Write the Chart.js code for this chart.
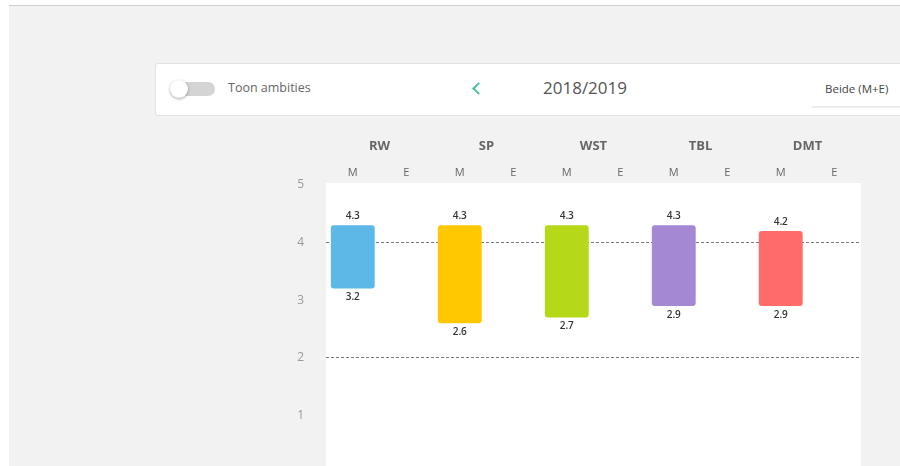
<!DOCTYPE html>
<html>
<head>
<meta charset="utf-8">
<script src="https://cdn.jsdelivr.net/npm/chart.js@4/dist/chart.umd.min.js"></script>
<style>
  html, body { margin: 0; padding: 0; width: 900px; height: 466px; overflow: hidden; background: #fff; font-family: "Open Sans", sans-serif; }
  .page { position: absolute; left: 9px; top: 5px; right: 0; height: 600px; background: #f2f2f2; border-top: 1px solid #cfcfcf; }
  .bar-top { position: absolute; left: 155px; top: 63px; width: 780px; height: 51px; background: #fff; border: 1px solid #e2e2e2; border-radius: 3px; }
  .track { position: absolute; left: 172px; top: 82px; width: 43px; height: 14px; border-radius: 7px; background: #d4d4d4; }
  .knob { position: absolute; left: 170px; top: 80px; width: 18px; height: 18px; border-radius: 50%; background: #fff; box-shadow: 0 1px 3px rgba(0,0,0,0.35); }
  .lbl { position: absolute; left: 228px; top: 80px; font-size: 12.5px; color: #666; line-height: 16px; }
  .chev { position: absolute; left: 474px; top: 84px; width: 7px; height: 7px; border-left: 2px solid #4dbfa6; border-bottom: 2px solid #4dbfa6; transform: rotate(45deg); }
  .year { position: absolute; left: 543px; top: 77px; font-size: 17px; color: #555; line-height: 22px; }
  .sel { position: absolute; left: 812px; top: 74px; width: 100px; height: 32px; border-bottom: 2px solid #ececec; }
  .sel span { position: absolute; left: 13px; top: 7px; font-size: 11.5px; color: #444; line-height: 16px; }
  #chart { position: absolute; left: 270px; top: 125px; }
</style>
</head>
<body>
<div class="page"></div>
<div class="bar-top"></div>
<div class="track"></div>
<div class="knob"></div>
<div class="lbl">Toon ambities</div>
<div class="chev"></div>
<div class="year">2018/2019</div>
<div class="sel"><span>Beide (M+E)</span></div>
<canvas id="chart" width="620" height="377"></canvas>
<script>
const groups = ["RW", "SP", "WST", "TBL", "DMT"];
const subLabels = ["M", "E"];
const lowValues = [3.2, 2.6, 2.7, 2.9, 2.9];
const highValues = [4.3, 4.3, 4.3, 4.3, 4.2];
const barColors = ["#5cb8e6", "#ffc800", "#b5d818", "#a488d4", "#ff6b6b"];
const yTicks = [1, 2, 3, 4, 5];
const dashedAt = [2, 4];

// one M and one E column per group, only M has a bar
const labels = [];
const data = [];
const colors = [];
groups.forEach((g, i) => {
  subLabels.forEach(s => {
    labels.push(s);
    data.push(s === "M" ? [lowValues[i], highValues[i]] : null);
    colors.push(barColors[i]);
  });
});

const plotBackground = {
  id: "plotBackground",
  beforeDraw(chart) {
    const { ctx, chartArea: a } = chart;
    ctx.save();
    ctx.fillStyle = "#fff";
    ctx.fillRect(a.left, a.top - 2, a.right - a.left, a.bottom - a.top + 2);
    ctx.restore();
  },
};

const valueLabels = {
  id: "valueLabels",
  afterDatasetsDraw(chart) {
    const { ctx } = chart;
    const meta = chart.getDatasetMeta(0);
    ctx.save();
    ctx.font = "600 10px 'Open Sans', sans-serif";
    ctx.fillStyle = "#333";
    ctx.textAlign = "center";
    ctx.textBaseline = "middle";
    meta.data.forEach((bar, i) => {
      const v = data[i];
      if (!v) return;
      ctx.fillText(v[1].toFixed(1), bar.x, bar.y - 9);
      ctx.fillText(v[0].toFixed(1), bar.x, bar.base + 9);
    });
    ctx.restore();
  },
};

new Chart(document.getElementById("chart"), {
  type: "bar",
  data: {
    labels,
    datasets: [{
      data,
      backgroundColor: colors,
      borderWidth: 0,
      borderRadius: 3,
      borderSkipped: false,
      barPercentage: 0.82,
      categoryPercentage: 1,
    }],
  },
  options: {
    responsive: false,
    animation: false,
    layout: { padding: { left: 0, right: 29, top: 0, bottom: 25 } },
    plugins: { legend: { display: false }, tooltip: { enabled: false } },
    scales: {
      x: {
        position: "top",
        weight: 0,
        grid: { display: false, drawTicks: false },
        border: { display: false },
        ticks: { color: "#666", font: { size: 11, family: "'Open Sans', sans-serif" }, padding: 6, maxRotation: 0, autoSkip: false },
        afterFit: s => { s.height = 26; },
      },
      groups: {
        type: "category",
        position: "top",
        weight: 1,
        labels: groups,
        grid: { display: false, drawTicks: false },
        border: { display: false },
        ticks: { color: "#666", font: { size: 13, weight: "bold", family: "'Open Sans', sans-serif" }, padding: 5, maxRotation: 0, autoSkip: false },
        afterFit: s => { s.height = 34; },
      },
      y: {
        min: 0,
        max: 5,
        afterBuildTicks: s => { s.ticks = [0, ...yTicks].map(v => ({ value: v })); },
        grid: {
          drawTicks: false,
          color: c => dashedAt.includes(c.tick?.value) ? "#777" : "transparent",
          lineWidth: 1,
        },
        border: { display: false, dash: [3, 2] },
        ticks: {
          color: "#999",
          font: { size: 12, family: "'Open Sans', sans-serif" },
          padding: 22,
          callback: v => v === 0 ? "" : v,
        },
        afterFit: s => { s.width = 56; },
      },
    },
  },
  plugins: [plotBackground, valueLabels],
});
</script>
</body>
</html>
